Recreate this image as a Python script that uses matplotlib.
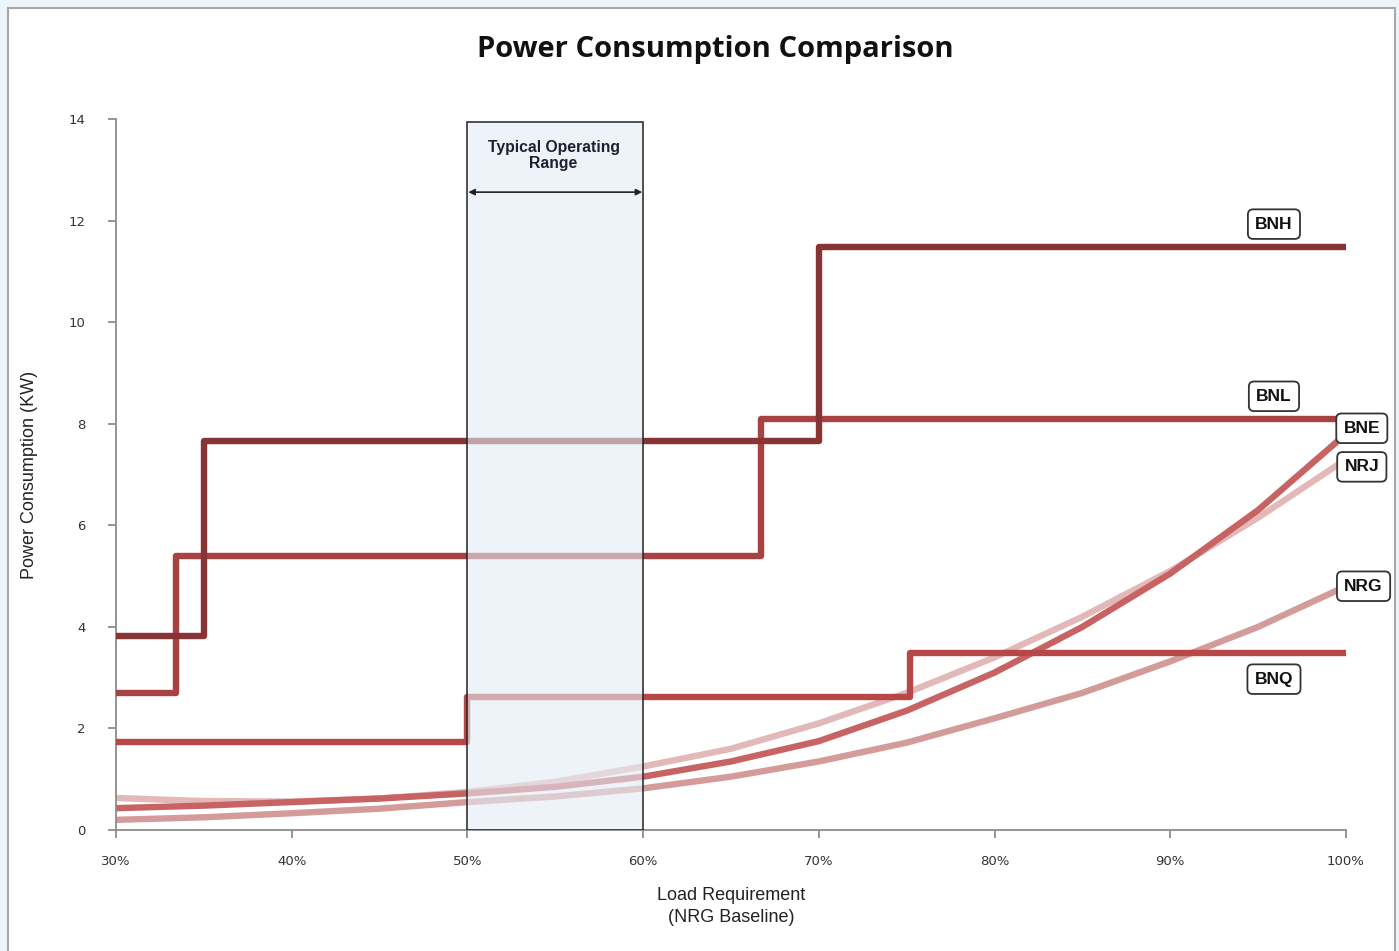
import matplotlib
matplotlib.use("Agg")
import matplotlib.pyplot as plt
from matplotlib.patches import Rectangle

# ==============================
# dados
# ==============================
# séries em degrau: (carga %, KW) – drawstyle steps-post
bnh_x = [30, 35, 70, 100]
bnh_y = [3.82, 7.65, 11.48, 11.48]
bnl_x = [30, 33.4, 66.7, 100]
bnl_y = [2.70, 5.39, 8.09, 8.09]
bnq_x = [30, 50, 75.2, 100]
bnq_y = [1.74, 2.62, 3.49, 3.49]

# curvas
carga = [30, 35, 40, 45, 50, 55, 60, 65, 70, 75, 80, 85, 90, 95, 100]
bne_y = [0.43, 0.48, 0.55, 0.62, 0.72, 0.85, 1.05, 1.35, 1.75, 2.35, 3.10, 4.00, 5.05, 6.30, 7.80]
nrj_y = [0.63, 0.57, 0.56, 0.62, 0.75, 0.95, 1.25, 1.60, 2.10, 2.70, 3.40, 4.20, 5.10, 6.15, 7.30]
nrg_y = [0.20, 0.25, 0.33, 0.42, 0.55, 0.66, 0.82, 1.05, 1.35, 1.72, 2.20, 2.70, 3.32, 4.00, 4.80]

x_ticks = [30, 40, 50, 60, 70, 80, 90, 100]
x_labels = ["30%", "40%", "50%", "60%", "70%", "80%", "90%", "100%"]
y_ticks = [0, 2, 4, 6, 8, 10, 12, 14]

faixa = (50, 60)

# rótulos: (texto, x, y)
rotulos = [("BNH", 95.9, 11.93), ("BNL", 95.9, 8.54), ("BNE", 100.9, 7.91),
           ("NRJ", 100.9, 7.15), ("NRG", 101.0, 4.80), ("BNQ", 95.9, 2.97)]

# ==============================
# figura
# ==============================
W, H = 1399, 951
fig = plt.figure(figsize=(W / 100, H / 100), dpi=100)
fig.patch.set_facecolor("#eef5fa")
fig.patches.append(Rectangle((8 / W, -0.01), (1395 - 8) / W, (H - 8) / H + 0.01,
                             transform=fig.transFigure, facecolor="white",
                             edgecolor="#a8a8a8", linewidth=1.5, zorder=0))

ax = fig.add_axes([116 / W, 1 - 830 / H, (1346 - 116) / W, (830 - 119) / H])
ax.set_facecolor("none")
ax.set_zorder(2)

lw = 4.6
ax.plot(carga, nrg_y, color="#d49b9b", lw=lw, solid_capstyle="butt", zorder=2)
ax.plot(carga, nrj_y, color="#e2b8b8", lw=lw, solid_capstyle="butt", zorder=2)
ax.plot(carga, bne_y, color="#c86363", lw=lw, solid_capstyle="butt", zorder=2)
ax.plot(bnq_x, bnq_y, drawstyle="steps-post", color="#b84848", lw=lw, zorder=3)
ax.plot(bnl_x, bnl_y, drawstyle="steps-post", color="#a84242", lw=lw, zorder=3)
ax.plot(bnh_x, bnh_y, drawstyle="steps-post", color="#883434", lw=lw, zorder=3)

# faixa típica de operação
ax.add_patch(Rectangle((faixa[0], 0), faixa[1] - faixa[0], 13.95,
                       facecolor="#e4ecf5", alpha=0.6, edgecolor="none", zorder=4))
ax.add_patch(Rectangle((faixa[0], 0), faixa[1] - faixa[0], 13.95,
                       facecolor="none", edgecolor="#222222", lw=1.1, zorder=5))
ax.annotate("", xy=(faixa[0] + 0.05, 12.56), xytext=(faixa[1] - 0.05, 12.56),
            arrowprops=dict(arrowstyle="<|-|>", color="#222222", lw=1.2,
                            mutation_scale=9, shrinkA=0, shrinkB=0), zorder=6)
ax.text(54.9, 13.28, "Typical Operating\nRange", ha="center", va="center",
        fontsize=11.3, fontweight="bold", family="Liberation Sans",
        color="#1f1f2f", linespacing=1.05, zorder=6)

for txt, x, y in rotulos:
    ax.text(x, y, txt, ha="center", va="center", fontsize=12.5, fontweight="bold",
            family="Liberation Sans", color="#111111", zorder=7, clip_on=False,
            bbox=dict(boxstyle="round,pad=0.42,rounding_size=0.3",
                      facecolor="white", edgecolor="#333333", lw=1.3))

ax.set_xlim(30, 100)
ax.set_ylim(0, 14)
ax.set_xticks(x_ticks)
ax.set_xticklabels(x_labels)
ax.set_yticks(y_ticks)
for s in ["top", "right"]:
    ax.spines[s].set_visible(False)
for s in ["left", "bottom"]:
    ax.spines[s].set_color("#8c8c8c")
    ax.spines[s].set_linewidth(1.3)
ax.tick_params(axis="both", colors="#8c8c8c", length=6, width=1.3,
               labelcolor="#333333", labelsize=9.5)
ax.tick_params(axis="x", pad=12)
ax.tick_params(axis="y", pad=16)

ax.set_xlabel("Load Requirement\n(NRG Baseline)", fontsize=13,
              family=["Liberation Sans Narrow", "Liberation Sans"],
              color="#222222", labelpad=14, linespacing=1.35)
ax.set_ylabel("Power Consumption (KW)", fontsize=13,
              family=["Liberation Sans Narrow", "Liberation Sans"],
              color="#222222", labelpad=22)

fig.text(715 / W, 1 - 50 / H, "Power Consumption Comparison", ha="center", va="center",
         fontsize=21, fontweight="bold", family="Open Sans", color="#111111")

fig.savefig("out.png", dpi=100, facecolor=fig.get_facecolor())
